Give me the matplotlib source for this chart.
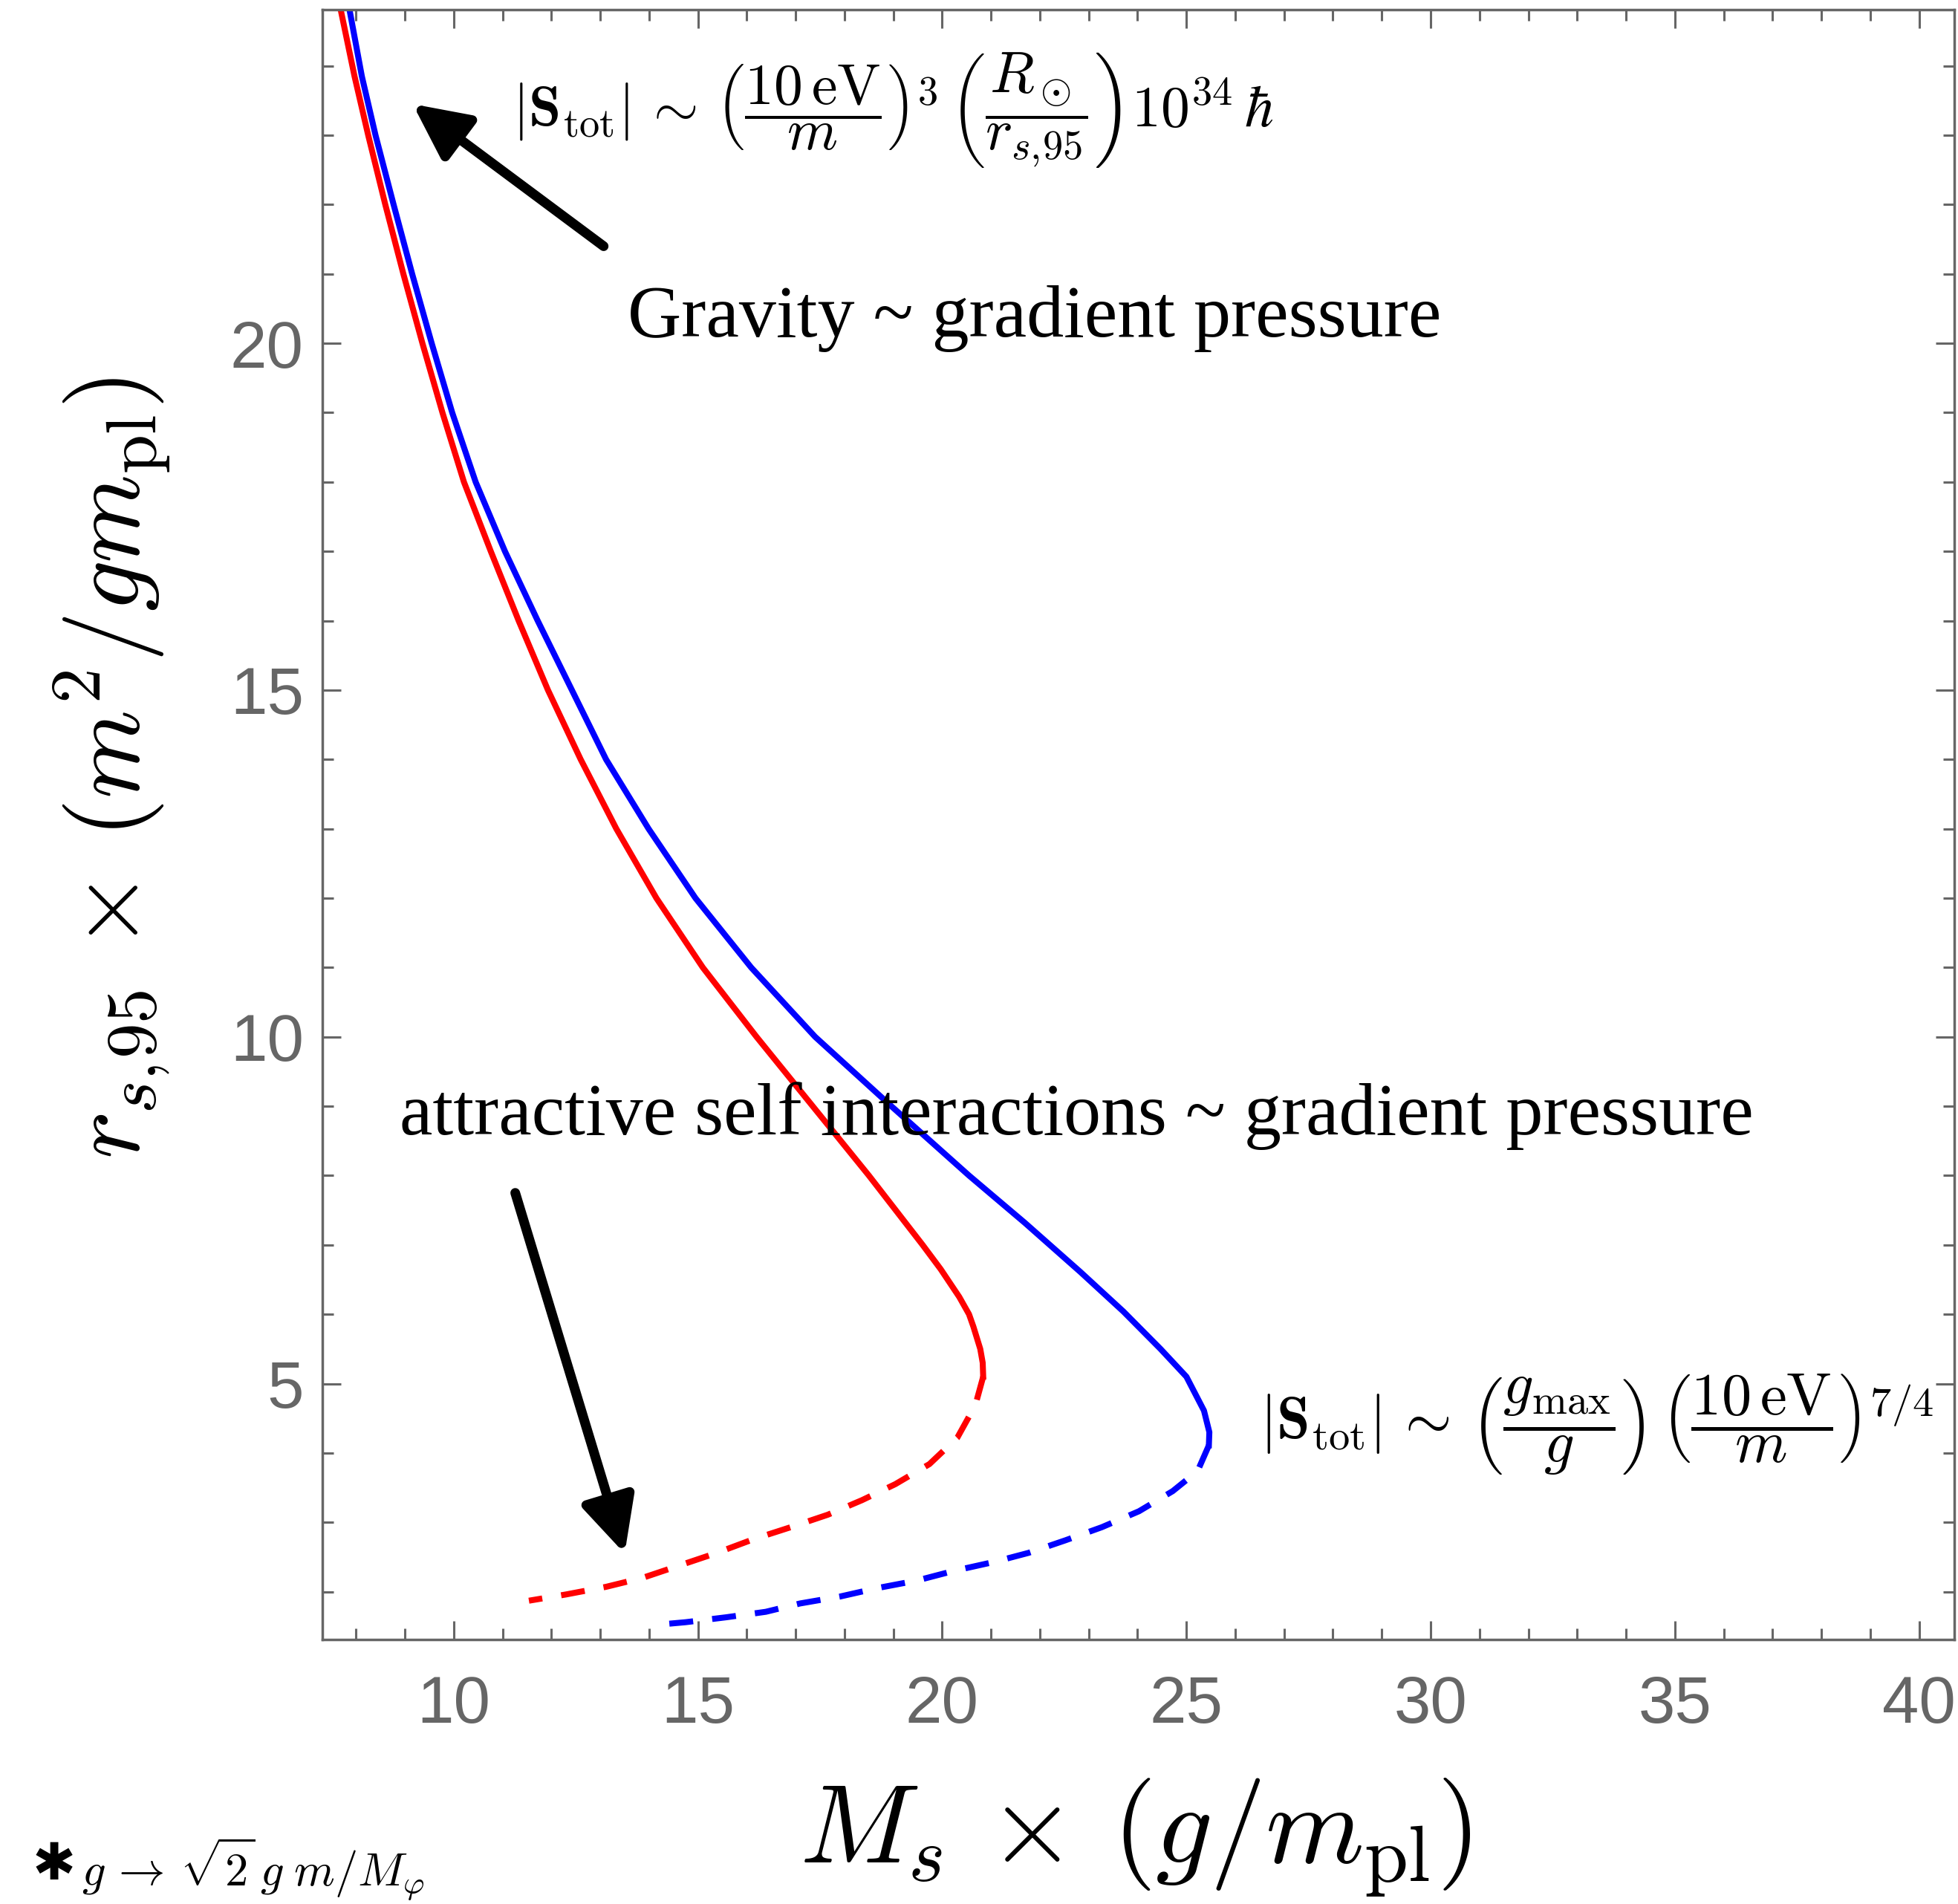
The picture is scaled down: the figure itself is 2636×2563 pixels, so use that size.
import matplotlib
matplotlib.use("Agg")
import matplotlib.pyplot as plt
from matplotlib.ticker import MultipleLocator

plt.rcParams['mathtext.fontset'] = 'cm'

# =======================
# red curve (upper solid branch, lower dashed branch)
# =======================
red_up_x = [7.58, 7.69, 7.97, 8.25, 8.6, 8.97, 9.36, 9.77, 10.21, 10.76, 11.33, 11.93,
            12.6, 13.33, 14.15, 15.1, 16.2, 17.35, 18.5, 19.6, 19.97, 20.35, 20.55,
            20.64, 20.78, 20.83, 20.84]
red_up_y = [25.2, 24.8, 23.85, 23.0, 22.0, 21.0, 20.0, 19.0, 18.0, 17.0, 16.0, 15.0,
            14.0, 13.0, 12.0, 11.0, 10.0, 9.0, 8.0, 7.0, 6.65, 6.25, 6.0,
            5.82, 5.5, 5.3, 5.1]

red_lo_x = [20.84, 20.68, 20.31, 19.74, 19.04, 18.36, 17.66, 16.9, 16.15, 15.39, 14.63,
            13.87, 13.12, 12.3, 11.54]
red_lo_y = [5.1, 4.69, 4.22, 3.84, 3.55, 3.32, 3.11, 2.93, 2.76, 2.56, 2.38,
            2.2, 2.07, 1.96, 1.87]

# =======================
# blue curve
# =======================
blue_up_x = [7.77, 7.87, 8.12, 8.4, 8.77, 9.15, 9.55, 9.97, 10.45, 11.05, 11.72, 12.42,
             13.12, 13.99, 14.95, 16.09, 17.40, 18.96, 20.55, 21.69, 22.83, 23.71,
             24.47, 25.0, 25.36, 25.47, 25.46]
blue_up_y = [25.2, 24.8, 23.85, 23.0, 22.0, 21.0, 20.0, 19.0, 18.0, 17.0, 16.0, 15.0,
             14.0, 13.0, 12.0, 11.0, 10.0, 9.0, 8.0, 7.32, 6.61, 6.04,
             5.5, 5.1, 4.61, 4.3, 4.11]

blue_lo_x = [25.46, 25.23, 24.72, 24.03, 23.27, 22.52, 21.77, 21.07, 20.24, 19.48, 18.66,
             17.91, 17.09, 16.39, 15.57, 14.75, 14.12]
blue_lo_y = [4.11, 3.74, 3.45, 3.16, 2.93, 2.74, 2.56, 2.43, 2.3, 2.16, 2.05,
             1.93, 1.83, 1.71, 1.63, 1.56, 1.52]

xticks = [10, 15, 20, 25, 30, 35, 40]
yticks = [5, 10, 15, 20]

gray = '#666666'
W, H = 2636, 2563

fig = plt.figure(figsize=(W / 100, H / 100), dpi=100)
ax = fig.add_axes([0.1646, 0.1389, 0.8335, 0.856])

lw = 5.8
ax.plot(red_up_x, red_up_y, color='red', lw=lw, solid_joinstyle='round')
ax.plot(red_lo_x, red_lo_y, color='red', lw=lw, dashes=(4, 3.2))
ax.plot(blue_up_x, blue_up_y, color='blue', lw=lw, solid_joinstyle='round')
ax.plot(blue_lo_x, blue_lo_y, color='blue', lw=lw, dashes=(4, 3.2))

ax.set_xlim(7.31, 40.72)
ax.set_ylim(1.31, 24.81)
ax.set_xticks(xticks)
ax.set_yticks(yticks)
ax.xaxis.set_minor_locator(MultipleLocator(1))
ax.yaxis.set_minor_locator(MultipleLocator(1))
ax.tick_params(which='both', direction='in', top=True, right=True, color=gray, width=2.2)
ax.tick_params(which='major', length=18)
ax.tick_params(which='minor', length=11)
ax.tick_params(axis='x', pad=34)
ax.tick_params(axis='y', pad=18)
for lab in ax.get_xticklabels() + ax.get_yticklabels():
    lab.set_fontfamily('Liberation Sans')
    lab.set_fontsize(64)
    lab.set_color(gray)
for s in ax.spines.values():
    s.set_color(gray)
    s.set_linewidth(2.5)

# axis labels
fig.text(1528 / W, 1 - 2474 / H, r'$M_s\,\times\,(g/m_{\rm pl})$', fontsize=109,
         ha='center', va='center')
fig.text(151 / W, 1 - 1034 / H, r'$r_{s,\!95}\,\times\,(m^2/g m_{\rm pl})$', fontsize=98,
         ha='center', va='center', rotation=90)

# annotations
ax.text(11.2, 23.37,
        r'$|\mathbf{S}_{\rm tot}|\,\sim\,\left(\dfrac{10\,{\rm eV}}{m}\right)^3\,'
        r'\left(\dfrac{R_\odot}{r_{s,\!95}}\right)10^{34}\,\hbar$',
        fontsize=56, ha='left', va='center')
ax.text(13.56, 20.35, 'Gravity ~ gradient pressure', fontfamily='Liberation Serif',
        fontsize=72, ha='left', va='center')
ax.text(8.90, 8.86, 'attractive self interactions ~ gradient pressure',
        fontfamily='Liberation Serif', fontsize=72, ha='left', va='center')
ax.text(26.5, 4.42,
        r'$|\mathbf{S}_{\rm tot}|\,\sim\,\left(\dfrac{g_{\rm max}}{g}\right)\,'
        r'\left(\dfrac{10\,{\rm eV}}{m}\right)^{7/4}$',
        fontsize=58, ha='left', va='center')

arrow = dict(arrowstyle='-|>,head_length=45,head_width=22', lw=9.4, color='black',
             shrinkA=0, shrinkB=0, mutation_scale=1)
ax.annotate('', xy=(9.16, 23.45), xytext=(13.07, 21.40), arrowprops=arrow)
ax.annotate('', xy=(13.50, 2.55), xytext=(11.26, 7.75), arrowprops=arrow)

# footnote
fig.text(44 / W, 1 - 2510 / H, '\u2731', fontfamily='DejaVu Sans', fontsize=50,
         ha='left', va='center')
fig.text(110 / W, 1 - 2538 / H, r'$g\,\rightarrow\,\sqrt{2}\,g\;m/M_\varphi$',
         fontsize=45, ha='left', va='baseline')

fig.savefig('out.png', dpi=100)
